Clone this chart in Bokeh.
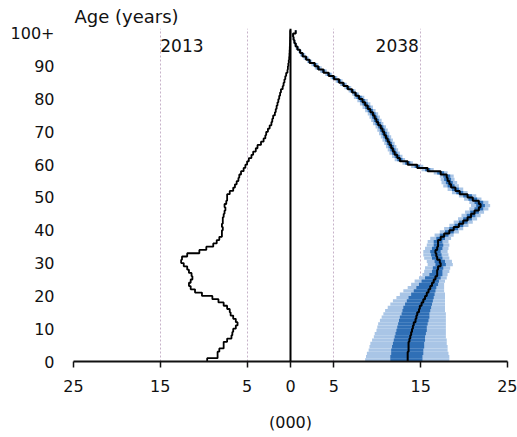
from bokeh.plotting import figure
from bokeh.models import Range1d, FixedTicker, Label, Span
from bokeh.embed import file_html
from bokeh.resources import INLINE

# ---------------- data (thousands of people, single year of age 0..100+) -------------
ages = list(range(0, 101))
age_ticks = [0, 10, 20, 30, 40, 50, 60, 70, 80, 90, 100]
age_tick_labels = ["0", "10", "20", "30", "40", "50", "60", "70", "80", "90", "100+"]
pop_ticks = [-25, -15, -5, 0, 5, 15, 25]
pop_tick_labels = ["25", "15", "5", "0", "5", "15", "25"]
grid_ticks = [-25, -15, -5, 5, 15, 25]

pop_2013 = [
    9.6, 8.4, 8.4, 8.2, 7.7, 7.7, 7.3, 6.8, 6.7, 6.6,
    6.3, 6.1, 6.3, 6.6, 6.9, 7.0, 7.3, 7.7, 8.3, 9.0,
    10.2, 11.0, 11.5, 11.7, 11.5, 11.3, 11.4, 11.7, 11.9, 12.3,
    12.6, 12.5, 11.9, 10.5, 9.7, 8.9, 8.5, 8.2, 7.9, 7.9,
    7.8, 7.9, 7.8, 7.8, 7.7, 7.6, 7.5, 7.6, 7.4, 7.3,
    7.3, 7.0, 6.6, 6.4, 6.2, 6.0, 5.9, 5.7, 5.4, 5.2,
    5.0, 4.8, 4.5, 4.3, 4.0, 3.8, 3.4, 3.1, 2.9, 2.8,
    2.6, 2.4, 2.2, 2.1, 2.0, 1.8, 1.7, 1.6, 1.5, 1.4,
    1.3, 1.2, 1.1, 0.9, 0.8, 0.7, 0.6, 0.5, 0.35, 0.3,
    0.25, 0.2, 0.15, 0.12, 0.1, 0.08, 0.06, 0.05, 0.04, 0.03,
    0.03,
]

median_2038 = [
    13.5, 13.5, 13.5, 13.6, 13.6, 13.6, 13.7, 13.8, 13.9, 14.0,
    14.1, 14.2, 14.4, 14.5, 14.6, 14.8, 14.9, 15.1, 15.3, 15.5,
    15.7, 15.9, 16.1, 16.3, 16.5, 16.7, 16.9, 16.9, 17.0, 17.3,
    17.2, 16.9, 16.8, 16.7, 16.9, 17.0, 17.0, 17.3, 17.7, 18.3,
    18.8, 19.4, 19.9, 20.4, 20.8, 21.2, 21.7, 21.9, 21.7, 21.0,
    20.4, 19.5, 19.0, 18.5, 18.3, 18.1, 18.0, 17.3, 15.8, 14.6,
    13.5, 12.6, 12.3, 12.0, 11.8, 11.6, 11.4, 11.2, 11.0, 10.8,
    10.6, 10.4, 10.1, 9.9, 9.7, 9.5, 9.2, 8.9, 8.6, 8.3,
    7.9, 7.5, 7.1, 6.6, 6.1, 5.6, 5.0, 4.4, 3.8, 3.2,
    2.8, 2.2, 1.8, 1.4, 1.1, 0.8, 0.6, 0.45, 0.35, 0.3,
    0.6,
]

low90_2038 = [
    8.6, 8.7, 8.8, 9.0, 9.1, 9.2, 9.4, 9.6, 9.7, 9.9,
    10.0, 10.1, 10.3, 10.5, 10.7, 10.9, 11.2, 11.5, 11.8, 12.2,
    12.6, 13.0, 13.5, 13.9, 14.3, 14.8, 15.2, 15.4, 15.5, 15.8,
    15.7, 15.4, 15.3, 15.3, 15.5, 15.7, 15.8, 16.1, 16.6, 17.2,
    17.7, 18.3, 18.8, 19.3, 19.7, 20.1, 20.6, 20.8, 20.6, 20.0,
    19.4, 18.6, 18.1, 17.6, 17.4, 17.3, 17.2, 16.5, 15.1, 13.9,
    12.9, 12.0, 11.7, 11.4, 11.2, 11.0, 10.8, 10.6, 10.4, 10.2,
    10.0, 9.8, 9.5, 9.3, 9.1, 8.9, 8.6, 8.3, 8.0, 7.7,
    7.3, 7.1, 6.7, 6.2, 5.7, 5.2, 4.6, 4.0, 3.4, 2.8,
    2.4, 1.9, 1.5, 1.1, 0.9, 0.6, 0.45, 0.3, 0.25, 0.2,
    0.5,
]

low50_2038 = [
    11.5, 11.5, 11.6, 11.6, 11.7, 11.8, 11.9, 12.0, 12.1, 12.2,
    12.3, 12.4, 12.5, 12.6, 12.8, 12.9, 13.0, 13.2, 13.4, 13.6,
    13.9, 14.2, 14.5, 14.8, 15.1, 15.5, 16.0, 16.3, 16.4, 16.7,
    16.6, 16.3, 16.2, 16.1, 16.3, 16.5, 16.5, 16.8, 17.2, 17.8,
    18.3, 18.9, 19.4, 19.9, 20.3, 20.7, 21.2, 21.4, 21.2, 20.5,
    19.9, 19.1, 18.6, 18.1, 17.9, 17.7, 17.6, 16.9, 15.5, 14.3,
    13.2, 12.3, 12.0, 11.7, 11.5, 11.3, 11.1, 10.9, 10.7, 10.5,
    10.3, 10.1, 9.8, 9.6, 9.4, 9.2, 8.9, 8.6, 8.3, 8.0,
    7.6, 7.3, 6.9, 6.4, 5.9, 5.4, 4.8, 4.2, 3.6, 3.0,
    2.6, 2.05, 1.65, 1.25, 1.0, 0.7, 0.5, 0.4, 0.3, 0.25,
    0.55,
]

high50_2038 = [
    15.2, 15.2, 15.3, 15.3, 15.4, 15.4, 15.5, 15.5, 15.6, 15.7,
    15.7, 15.8, 15.9, 16.0, 16.0, 16.1, 16.2, 16.3, 16.4, 16.5,
    16.6, 16.7, 16.8, 17.0, 17.1, 17.3, 17.5, 17.5, 17.6, 17.9,
    17.8, 17.5, 17.4, 17.3, 17.5, 17.6, 17.5, 17.8, 18.2, 18.8,
    19.3, 19.9, 20.4, 20.9, 21.3, 21.7, 22.2, 22.4, 22.2, 21.5,
    20.9, 19.9, 19.4, 18.9, 18.7, 18.5, 18.4, 17.7, 16.1, 14.9,
    13.8, 12.9, 12.6, 12.3, 12.1, 11.9, 11.7, 11.5, 11.3, 11.1,
    10.9, 10.7, 10.4, 10.2, 10.0, 9.8, 9.5, 9.2, 8.9, 8.6,
    8.2, 7.7, 7.3, 6.8, 6.3, 5.8, 5.2, 4.6, 4.0, 3.4,
    3.0, 2.35, 1.95, 1.55, 1.2, 0.9, 0.7, 0.5, 0.4, 0.35,
    0.65,
]

high90_2038 = [
    18.3, 18.3, 18.2, 18.1, 18.1, 18.0, 18.0, 17.9, 17.9, 17.9,
    17.9, 17.9, 17.9, 17.9, 17.9, 17.8, 17.8, 17.8, 17.8, 17.8,
    17.8, 17.7, 17.7, 17.7, 17.8, 18.0, 18.1, 18.3, 18.4, 18.7,
    18.6, 18.3, 18.2, 18.1, 18.2, 18.3, 18.2, 18.5, 18.8, 19.4,
    19.9, 20.5, 21.0, 21.5, 21.9, 22.3, 22.8, 23.0, 22.8, 22.0,
    21.4, 20.4, 19.9, 19.4, 19.2, 18.9, 18.8, 18.1, 16.5, 15.3,
    14.1, 13.2, 12.9, 12.6, 12.4, 12.2, 12.0, 11.8, 11.6, 11.4,
    11.2, 11.0, 10.7, 10.5, 10.3, 10.1, 9.8, 9.5, 9.2, 8.9,
    8.5, 7.9, 7.5, 7.0, 6.5, 6.0, 5.4, 4.8, 4.2, 3.6,
    3.2, 2.5, 2.1, 1.7, 1.3, 1.0, 0.75, 0.6, 0.45, 0.4,
    0.7,
]

# ---------------- styling ----------------
FONT = "DejaVu Sans"
TXT = "#111111"
LIGHT = "#a9c5e6"
DARK = "#2f6fb6"

p = figure(width=517, height=437, output_backend="svg", toolbar_location=None,
           x_range=Range1d(-25, 25), y_range=Range1d(0, 101.5),
           min_border_left=73, min_border_right=10, min_border_top=28, min_border_bottom=76)
p.outline_line_color = None
p.background_fill_color = "white"
p.border_fill_color = "white"

# title used as the vertical-axis caption
p.title.text = "Age (years)"
p.title.align = "left"
p.title.text_font = FONT
p.title.text_font_size = "18px"
p.title.text_font_style = "normal"
p.title.text_color = TXT
p.title.offset = 1
p.title.standoff = 3

# grid
p.ygrid.grid_line_color = None
p.xgrid.ticker = FixedTicker(ticks=grid_ticks)
p.xgrid.grid_line_color = "#c7b2c9"
p.xgrid.grid_line_dash = "2 2"
p.xgrid.grid_line_width = 1

# x axis
p.xaxis.ticker = FixedTicker(ticks=pop_ticks)
p.xaxis.major_label_overrides = {t: l for t, l in zip(pop_ticks, pop_tick_labels)}
p.xaxis.minor_tick_line_color = None
p.xaxis.major_tick_in = 0
p.xaxis.major_tick_out = 6
p.xaxis.major_tick_line_width = 1.5
p.xaxis.axis_line_width = 2
p.xaxis.axis_line_color = "#111111"
p.xaxis.major_tick_line_color = "#111111"
p.xaxis.major_label_standoff = 12
p.xaxis.major_label_text_font = FONT
p.xaxis.major_label_text_font_size = "16px"
p.xaxis.major_label_text_color = TXT
p.xaxis.axis_label = "(000)"
p.xaxis.axis_label_text_font = FONT
p.xaxis.axis_label_text_font_size = "16px"
p.xaxis.axis_label_text_font_style = "normal"
p.xaxis.axis_label_text_color = TXT
p.xaxis.axis_label_standoff = 18

# y axis
p.yaxis.ticker = FixedTicker(ticks=age_ticks)
p.yaxis.major_label_overrides = {t: l for t, l in zip(age_ticks, age_tick_labels)}
p.yaxis.axis_line_color = None
p.yaxis.major_tick_line_color = None
p.yaxis.minor_tick_line_color = None
p.yaxis.major_tick_in = 0
p.yaxis.major_tick_out = 0
p.yaxis.major_label_standoff = 19
p.yaxis.major_label_text_font = FONT
p.yaxis.major_label_text_font_size = "16px"
p.yaxis.major_label_text_color = TXT

# 2038 projection bands
bottoms = ages
tops = [a + 1 for a in ages]
p.quad(left=low90_2038, right=high90_2038, bottom=bottoms, top=tops,
       fill_color=LIGHT, line_color=None)
p.quad(left=low50_2038, right=high50_2038, bottom=bottoms, top=tops,
       fill_color=DARK, line_color=None)


def step_coords(values, sign):
    xs, ys = [], []
    for a, v in zip(ages, values):
        xs += [sign * v, sign * v]
        ys += [a, a + 1]
    return xs, ys


mx, my = step_coords(median_2038, 1)
p.line(mx, my, line_color="black", line_width=2)

lx, ly = step_coords(pop_2013, -1)
p.line(lx, ly, line_color="black", line_width=1.8)

# centre axis line
p.add_layout(Span(location=0, dimension="height", line_color="black", line_width=2))

# year captions
p.add_layout(Label(x=-15.0, y=96.3, text="2013", text_font=FONT,
                   text_font_size="17px", text_color=TXT, text_baseline="middle",
                   text_align="left"))
p.add_layout(Label(x=9.8, y=96.3, text="2038", text_font=FONT,
                   text_font_size="17px", text_color=TXT, text_baseline="middle",
                   text_align="left"))

open("out.html", "w").write(file_html(p, INLINE))
